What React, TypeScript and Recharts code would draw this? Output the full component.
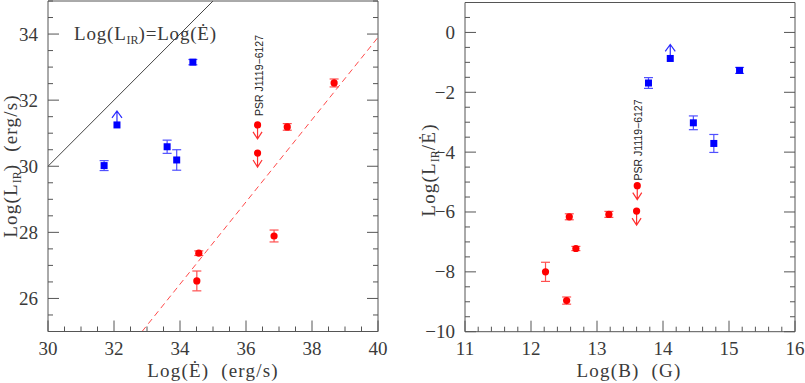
import { ComposedChart, Scatter, XAxis, YAxis, ErrorBar, ReferenceLine } from 'recharts';

const SERIF = '"Liberation Serif", "DejaVu Serif", serif';
const SANS = '"Liberation Sans", "DejaVu Sans", sans-serif';
const INK = '#3a3a3a';
const FRAME = '#555';

// ---- left panel: Log(L_IR) vs Log(Edot) ----
const leftBlueEdot = [31.7, 32.09, 34.39, 33.61, 33.9];
const leftBlueLir = [30.02, 31.25, 33.15, 30.59, 30.19];
const leftBlueErr = [0.15, 0, 0.08, 0.2, 0.31];
const leftBlueLim = ['', 'up', '', '', ''];

const leftRedEdot = [36.35, 36.35, 37.25, 38.67, 34.57, 34.51, 36.85];
const leftRedLir = [31.25, 30.4, 31.19, 32.52, 27.37, 26.53, 27.89];
const leftRedErr = [0, 0, 0.1, 0.12, 0.07, 0.3, 0.18];
const leftRedLim = ['down', 'down', '', '', '', '', ''];

const equalityX = [30, 35];
const equalityY = [30, 35];
const fitX = [32.85, 40];
const fitY = [25, 33.9];

// ---- right panel: Log(L_IR/Edot) vs Log(B) ----
const rightBlueB = [13.78, 14.11, 15.16, 14.46, 14.77];
const rightBlueRatio = [-1.69, -0.87, -1.27, -3.02, -3.71];
const rightBlueErr = [0.18, 0, 0.1, 0.23, 0.3];
const rightBlueLim = ['', 'up', '', '', ''];

const rightRedB = [13.61, 13.6, 12.58, 13.18, 12.68, 12.22, 12.54];
const rightRedRatio = [-5.12, -5.97, -6.16, -6.08, -7.22, -8.0, -8.96];
const rightRedErr = [0, 0, 0.1, 0.1, 0.07, 0.32, 0.12];
const rightRedLim = ['down', 'down', '', '', '', '', ''];

// ticks
const leftXMajor = [30, 32, 34, 36, 38, 40];
const leftYMajor = [26, 28, 30, 32, 34];
const rightXMajor = [11, 12, 13, 14, 15, 16];
const rightYMajor = [-10, -8, -6, -4, -2, 0];

function steps(a: number, b: number, step: number) {
  const out: number[] = [];
  const n = Math.round((b - a) / step);
  for (let i = 0; i <= n; i++) out.push(Math.round((a + i * step) * 1000) / 1000);
  return out;
}
const leftXTicks = steps(30, 40, 0.5);
const leftYTicks = steps(25, 35, 0.5);
const rightXTicks = steps(11, 16, 0.2);
const rightYTicks = steps(-10, 1, 0.5);

function rows(xs: number[], ys: number[], errs: number[], lims: string[]) {
  return xs.map((x, i) => ({ x, y: ys[i], err: errs[i], lim: lims[i] }));
}

const fmtNum = (v: number) => (v < 0 ? '\u2212' + Math.abs(v) : String(v));

function makeTick(side: string, majors: number[], labels: boolean) {
  return (props: any) => {
    const { x, y, payload } = props;
    const v = payload.value;
    const major = majors.some((m) => Math.abs(m - v) < 1e-6);
    const len = major ? 11 : 5;
    let line;
    if (side === 'bottom') line = <line x1={x} y1={y} x2={x} y2={y - len} />;
    else if (side === 'top') line = <line x1={x} y1={y} x2={x} y2={y + len} />;
    else if (side === 'left') line = <line x1={x} y1={y} x2={x + len} y2={y} />;
    else line = <line x1={x} y1={y} x2={x - len} y2={y} />;
    return (
      <g stroke={FRAME} strokeWidth={1}>
        {line}
        {labels && major && side === 'bottom' && (
          <text x={x} y={y + 23.5} textAnchor="middle" fontFamily={SERIF} fontSize={19} fill={INK} stroke="none">
            {fmtNum(v)}
          </text>
        )}
        {labels && major && side === 'left' && (
          <text x={x - 10} y={y + 6.5} textAnchor="end" fontFamily={SERIF} fontSize={19} fill={INK} stroke="none">
            {fmtNum(v)}
          </text>
        )}
      </g>
    );
  };
}

function makeMarker(kind: string, color: string, arrow: string) {
  return (props: any) => {
    const { cx, cy, payload } = props;
    if (cx == null || cy == null) return <g />;
    const lim = payload?.lim;
    return (
      <g>
        {lim === 'down' && (
          <path
            d={`M${cx},${cy} L${cx},${cy + 14} M${cx - 4.5},${cy + 7} L${cx},${cy + 14} L${cx + 4.5},${cy + 7}`}
            stroke={arrow}
            strokeWidth={1.2}
            fill="none"
          />
        )}
        {lim === 'up' && (
          <path
            d={`M${cx},${cy} L${cx},${cy - 14} M${cx - 5},${cy - 7} L${cx},${cy - 14} L${cx + 5},${cy - 7}`}
            stroke={arrow}
            strokeWidth={1.2}
            fill="none"
          />
        )}
        {kind === 'square' ? (
          <rect x={cx - 3.5} y={cy - 3.5} width={7} height={7} fill={color} />
        ) : (
          <circle cx={cx} cy={cy} r={3.6} fill={color} />
        )}
      </g>
    );
  };
}

const BLUE = '#0000ff';
const RED = '#ff0000';

function Panel(props: {
  left: number;
  width: number;
  margin: any;
  xDomain: number[];
  yDomain: number[];
  xTicks: number[];
  yTicks: number[];
  xMajor: number[];
  yMajor: number[];
  blue: any[];
  red: any[];
  children?: any;
}) {
  const { margin, xDomain, yDomain, xTicks, yTicks, xMajor, yMajor } = props;
  return (
    <div style={{ position: 'absolute', left: props.left, top: 0 }}>
      <ComposedChart width={props.width} height={383} margin={margin}>
        <XAxis type="number" dataKey="x" domain={xDomain} ticks={xTicks} interval={0} height={1}
          tickSize={0} tickMargin={0} axisLine={{ stroke: FRAME }} tick={makeTick('bottom', xMajor, true)} allowDataOverflow />
        <XAxis xAxisId="top" orientation="top" type="number" domain={xDomain} ticks={xTicks} interval={0} height={1}
          tickSize={0} tickMargin={0} axisLine={{ stroke: FRAME }} tick={makeTick('top', xMajor, false)} allowDataOverflow />
        <YAxis type="number" dataKey="y" domain={yDomain} ticks={yTicks} interval={0} width={1}
          tickSize={0} tickMargin={0} axisLine={{ stroke: FRAME }} tick={makeTick('left', yMajor, true)} allowDataOverflow />
        <YAxis yAxisId="right" orientation="right" type="number" domain={yDomain} ticks={yTicks} interval={0} width={1}
          tickSize={0} tickMargin={0} axisLine={{ stroke: FRAME }} tick={makeTick('right', yMajor, false)} allowDataOverflow />
        {props.children}
        <Scatter data={props.blue} shape={makeMarker('square', BLUE, '#2a2aff')} isAnimationActive={false}>
          <ErrorBar dataKey="err" direction="y" width={4.5} stroke="#5050ff" strokeWidth={1.2} isAnimationActive={false} />
        </Scatter>
        <Scatter data={props.red} shape={makeMarker('circle', RED, '#ff3030')} isAnimationActive={false}>
          <ErrorBar dataKey="err" direction="y" width={4.5} stroke="#ff5050" strokeWidth={1.2} isAnimationActive={false} />
        </Scatter>
      </ComposedChart>
    </div>
  );
}

const Sub = ({ children }: { children: string }) => (
  <tspan fontSize={12} dy={4} letterSpacing={0}>{children}</tspan>
);

export default function App() {
  return (
    <div style={{ position: 'absolute', left: 0, top: 0, width: 805, height: 383, background: '#fff', overflow: 'hidden' }}>
      <Panel
        left={0}
        width={400}
        margin={{ top: 0, left: 47, right: 21, bottom: 50.5 }}
        xDomain={[30, 40]}
        yDomain={[25, 35]}
        xTicks={leftXTicks}
        yTicks={leftYTicks}
        xMajor={leftXMajor}
        yMajor={leftYMajor}
        blue={rows(leftBlueEdot, leftBlueLir, leftBlueErr, leftBlueLim)}
        red={rows(leftRedEdot, leftRedLir, leftRedErr, leftRedLim)}
      >
        <ReferenceLine
          segment={[{ x: equalityX[0], y: equalityY[0] }, { x: equalityX[1], y: equalityY[1] }]}
          stroke="#444"
          strokeWidth={1}
        />
        <ReferenceLine
          segment={[{ x: fitX[0], y: fitY[0] }, { x: fitX[1], y: fitY[1] }]}
          stroke="#ff4a4a"
          strokeWidth={1}
          strokeDasharray="6 4"
        />
      </Panel>
      <Panel
        left={400}
        width={405}
        margin={{ top: 1.5, left: 64, right: 9, bottom: 50.3 }}
        xDomain={[11, 16]}
        yDomain={[-10, 1]}
        xTicks={rightXTicks}
        yTicks={rightYTicks}
        xMajor={rightXMajor}
        yMajor={rightYMajor}
        blue={rows(rightBlueB, rightBlueRatio, rightBlueErr, rightBlueLim)}
        red={rows(rightRedB, rightRedRatio, rightRedErr, rightRedLim)}
      />
      <svg width={805} height={383} style={{ position: 'absolute', left: 0, top: 0, pointerEvents: 'none' }}>
        <g fontFamily={SERIF} fontSize={19} fill={INK} letterSpacing={1.2}>
          <text x={74} y={39.5} letterSpacing={0.8}>
            Log(L<Sub>IR</Sub><tspan dy={-4} letterSpacing={0.8}>)=Log(Ė)</tspan>
          </text>
          <text x={213} y={377} textAnchor="middle" style={{ whiteSpace: 'pre' }}>Log(Ė)  (erg/s)</text>
          <text x={629} y={377} textAnchor="middle" style={{ whiteSpace: 'pre' }}>Log(B)  (G)</text>
          <text transform="translate(16.5,166) rotate(-90)" textAnchor="middle" style={{ whiteSpace: 'pre' }}>
            Log(L<Sub>IR</Sub><tspan dy={-4} letterSpacing={1.2}>)  (erg/s)</tspan>
          </text>
          <text transform="translate(435,170) rotate(-90)" textAnchor="middle">
            Log(L<Sub>IR</Sub><tspan dy={-4} letterSpacing={1.2}>/Ė)</tspan>
          </text>
        </g>
        <g fontFamily={SANS} fontSize={10.5} fill="#222">
          <text transform="translate(263,75.5) rotate(-90)" textAnchor="middle">PSR J1119−6127</text>
          <text transform="translate(641.5,140) rotate(-90)" textAnchor="middle">PSR J1119−6127</text>
        </g>
      </svg>
    </div>
  );
}
